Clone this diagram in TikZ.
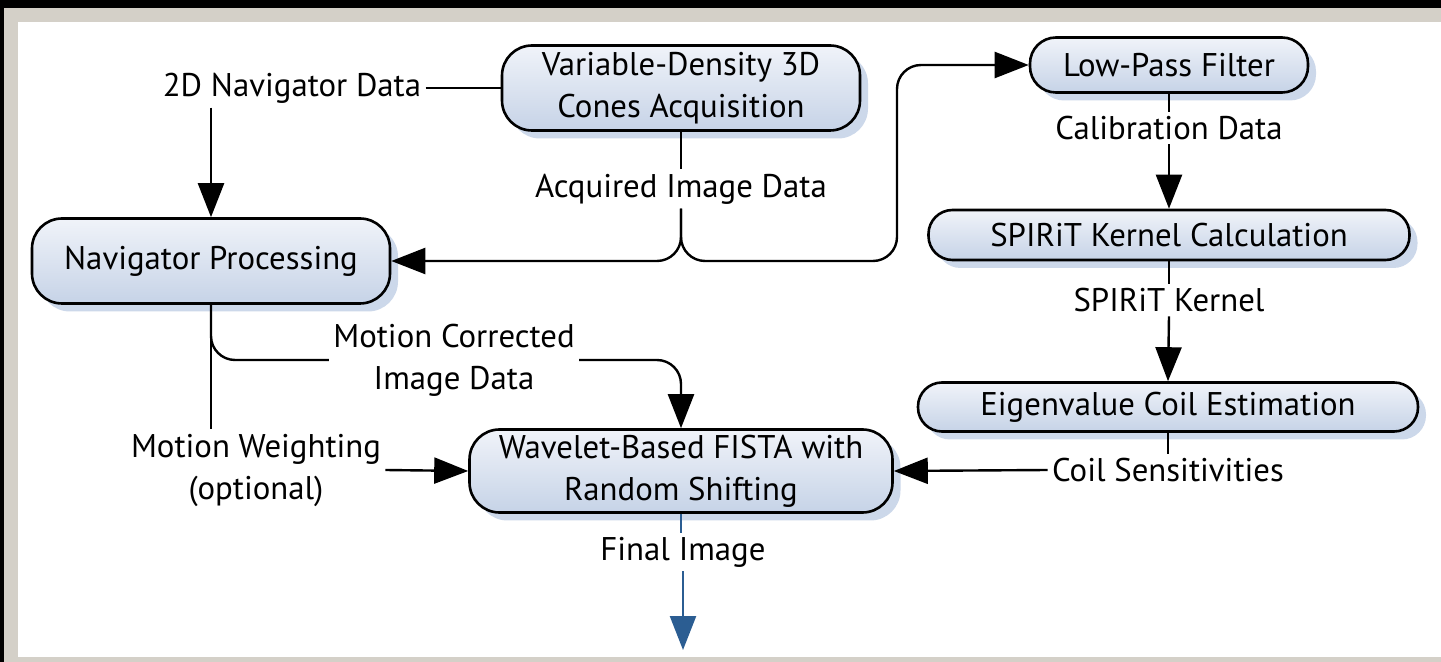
\documentclass[tikz,border=0pt]{standalone}
\usepackage{fontspec}
\setmainfont{PT Sans}
\usetikzlibrary{arrows.meta,positioning,calc,shadows}
\definecolor{framegrey}{HTML}{D4D0C8}
\definecolor{boxlight}{HTML}{F0F3F9}
\definecolor{boxdark}{HTML}{C6D3E7}
\definecolor{shadeblue}{HTML}{CCD8EA}
\definecolor{outblue}{HTML}{2B5D92}
\newcommand{\procfont}{\fontsize{16.4pt}{21pt}\selectfont}
\tikzset{
  >={Triangle[length=17pt,width=13pt]},
  % kasten
  proc/.style={draw=black,line width=1.3pt,top color=boxlight,bottom color=boxdark,
               rounded corners=#1,align=center,font=\procfont,inner sep=2pt,
               drop shadow={shadow xshift=4pt,shadow yshift=-4pt,fill=shadeblue,opacity=1}},
  proc/.default=14pt,
  lbl/.style={align=center,inner sep=2pt,font=\procfont},
  % pfeile
  flow/.style={draw=black,line width=1.2pt},
  outflow/.style={draw=outblue,line width=1.2pt},
}
\begin{document}
\begin{tikzpicture}[x=0.5pt,y=-0.5pt]
\useasboundingbox (0,0) rectangle (1441,662);
  % rahmen
  \fill[black] (0,0) rectangle (1441,662);
  \fill[framegrey] (4,8) rectangle (1441,662);
  \fill[white] (18,22) rectangle (1441,657);
  % verarbeitung
  \node[proc=15pt,minimum width=179pt,minimum height=42.5pt] (acqbox) at (681,88)
    {Variable-Density 3D\\Cones Acquisition};
  \node[proc=15pt,minimum width=179pt,minimum height=42.5pt] (navproc) at (211,261)
    {Navigator Processing};
  \node[proc=13pt,minimum width=139pt,minimum height=27.5pt] (lowpass) at (1169,65)
    {Low-Pass Filter};
  \node[proc=12pt,minimum width=240.5pt,minimum height=25pt] (spirit) at (1169,235)
    {SPIRiT Kernel Calculation};
  \node[proc=12pt,minimum width=250pt,minimum height=24.5pt] (eigen) at (1168,407)
    {Eigenvalue Coil Estimation};
  \node[proc=15pt,minimum width=211.5pt,minimum height=41.5pt] (fista) at (681,471)
    {Wavelet-Based FISTA with\\Random Shifting};
  % daten
  \node[lbl] (navdata) at (292,88) {2D Navigator Data};
  \node[lbl] (acqdata) at (681,189) {Acquired Image Data};
  \node[lbl] (caldata) at (1169,128) {Calibration Data};
  \node[lbl] (kernel) at (1169,300) {SPIRiT Kernel};
  \node[lbl] (coilsens) at (1168,470) {Coil Sensitivities};
  \node[lbl] (mcdata) at (454,360) {Motion Corrected\\Image Data};
  \node[lbl] (mweight) at (256,470) {Motion Weighting\\(optional)};
  \node[lbl] (final) at (683,552) {Final Image};
  \coordinate (turn) at (897,261);
  \coordinate (out) at (683,650);
  % verbindungen
  \draw[flow] (navdata.east) -- (acqbox.west);
  \draw[flow,->] (navdata.south -| navproc.north) -- (navproc.north);
  \draw[flow] (acqbox.south) -- (acqdata.north);
  \draw[flow,->,rounded corners=12pt] (acqdata.south) |- (navproc.east);
  \draw[flow,->,rounded corners=12pt] (acqdata.south) |- (turn) |- (lowpass.west);
  \draw[flow] (lowpass.south) -- (caldata.north);
  \draw[flow,->] (caldata.south) -- (spirit.north);
  \draw[flow] (spirit.south) -- (kernel.north);
  \draw[flow,->] (kernel.south) -- (eigen.north);
  \draw[flow] (eigen.south) -- (coilsens.north);
  \draw[flow,->] (coilsens.west) -- (fista.east);
  \draw[flow] (navproc.south) -- (navproc.south |- mweight.north);
  \draw[flow,rounded corners=12pt] (navproc.south) |- (mcdata.west);
  \draw[flow,->,rounded corners=12pt] (mcdata.east) -| (fista.north);
  \draw[flow,->] (mweight.east) -- (fista.west);
  \draw[outflow] (fista.south) -- (fista.south |- final.north);
  \draw[outflow,->] (final.south) -- (out);
\end{tikzpicture}
\end{document}
